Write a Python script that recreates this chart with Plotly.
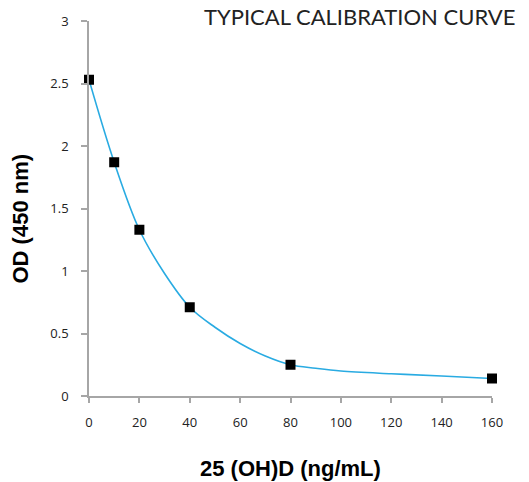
import plotly.graph_objects as go

# Standard points (calibrators)
std_conc = [0, 10, 20, 40, 80, 160]
std_od = [2.53, 1.87, 1.33, 0.71, 0.25, 0.14]

# Fitted curve
curve_conc = [0, 10, 20, 30, 40, 50, 60, 70, 80, 90, 100, 120, 140, 160]
curve_od = [2.53, 1.87, 1.33, 0.98, 0.71, 0.55, 0.42, 0.32, 0.25, 0.222, 0.2, 0.178, 0.16, 0.14]

x_ticks = [0, 20, 40, 60, 80, 100, 120, 140, 160]
y_ticks = [0, 0.5, 1, 1.5, 2, 2.5, 3]

title_text = "TYPICAL CALIBRATION CURVE"
x_title = "25 (OH)D (ng/mL)"
y_title = "OD (450 nm)"

fig = go.Figure()
fig.add_trace(go.Scatter(
    x=curve_conc, y=curve_od, mode="lines",
    line=dict(color="#29ABE2", width=1.6, shape="spline", smoothing=1.0),
    hoverinfo="skip", showlegend=False, cliponaxis=False,
))
fig.add_trace(go.Scatter(
    x=std_conc, y=std_od, mode="markers",
    marker=dict(symbol="square", size=10, color="black", line=dict(width=0)),
    showlegend=False, cliponaxis=False,
))

axis_common = dict(
    showgrid=False, zeroline=False, showline=True, linecolor="#A6A6A6", linewidth=1.5,
    ticks="outside", tickcolor="#A6A6A6", tickwidth=1.5,
    tickfont=dict(family="Open Sans", size=13, color="#222222"),
)

fig.update_layout(
    width=529, height=482,
    margin=dict(l=89, r=37, t=21, b=86),
    paper_bgcolor="white", plot_bgcolor="white",
    xaxis=dict(range=[0, 160], tickvals=x_ticks, ticklen=5, ticklabelstandoff=9, **axis_common),
    yaxis=dict(range=[0, 3], tickvals=y_ticks, ticklen=6, ticklabelstandoff=10, **axis_common),
    annotations=[
        dict(text=title_text, xref="paper", yref="paper", x=1.062, y=1.012,
             xanchor="right", yanchor="middle", showarrow=False,
             font=dict(family="Lato", size=22, color="#222222")),
        dict(text="<b>" + x_title + "</b>", xref="paper", yref="paper", x=0.5, y=-0.193,
             xanchor="center", yanchor="middle", showarrow=False,
             font=dict(family="Liberation Sans", size=22, color="black")),
        dict(text="<b>" + y_title + "</b>", xref="paper", yref="paper", x=-0.169, y=0.473,
             xanchor="center", yanchor="middle", showarrow=False, textangle=-90,
             font=dict(family="Liberation Sans", size=22, color="black")),
    ],
)

fig.write_html("out.html")
